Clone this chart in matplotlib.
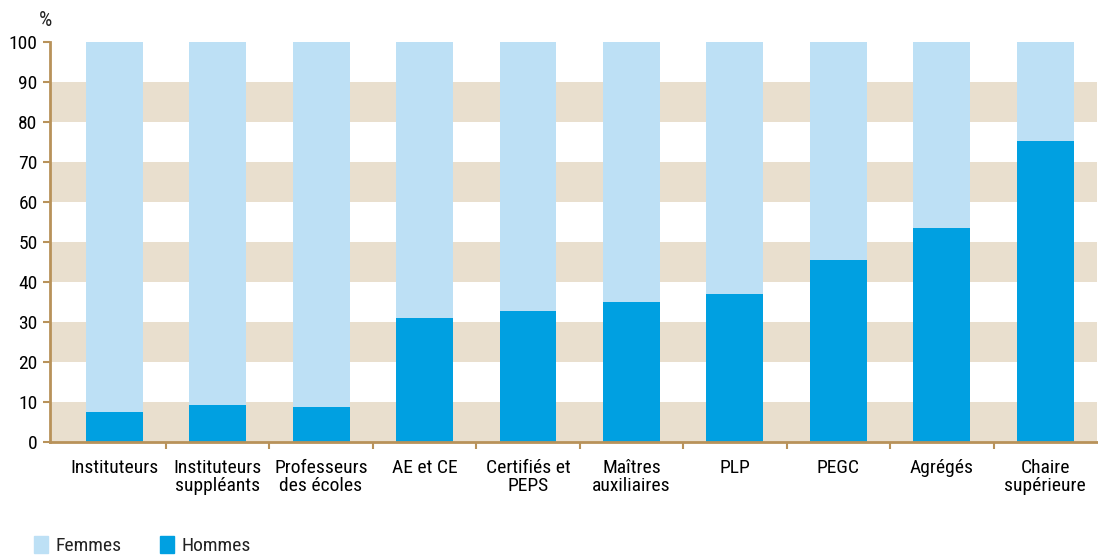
import matplotlib.pyplot as plt
import matplotlib.patches as mpatches
import numpy as np
from matplotlib import font_manager

categories = ["Instituteurs", "Instituteurs\nsuppléants", "Professeurs\ndes écoles",
              "AE et CE", "Certifiés et\nPEPS", "Maîtres\nauxiliaires", "PLP",
              "PEGC", "Agrégés", "Chaire\nsupérieure"]
hommes = [7.5, 9.3, 8.7, 31.0, 32.8, 35.0, 37.0, 45.5, 53.5, 75.3]
femmes = [100 - h for h in hommes]

C_FEM = "#BDE0F5"
C_HOM = "#00A0E1"
C_BAND = "#E9DFCE"
C_AXIS = "#B8925A"

names = {f.name for f in font_manager.fontManager.ttflist}
fam = "DejaVu Sans"
for cand in ["Liberation Sans Narrow", "Roboto Condensed", "Open Sans Condensed",
             "Roboto", "Liberation Sans"]:
    if cand in names:
        fam = cand
        break
plt.rcParams["font.family"] = fam
plt.rcParams["text.color"] = "#222222"

fig = plt.figure(figsize=(10.98, 5.56), dpi=100)
ax = fig.add_axes([50 / 1098, 1 - 442 / 556, 1047 / 1098, 400 / 556])

for lo in range(0, 90, 20):
    ax.axhspan(lo, lo + 10, color=C_BAND, lw=0, zorder=0)

x = np.arange(len(categories))
w = 0.55
ax.bar(x, hommes, w, color=C_HOM, zorder=2, label="Hommes")
ax.bar(x, femmes, w, bottom=hommes, color=C_FEM, zorder=2, label="Femmes")

ax.set_xlim(-0.62, 9.5)
ax.set_ylim(0, 100)
ax.set_yticks(range(0, 101, 10))
ax.set_xticks(x)
ax.set_xticklabels(categories, fontsize=14, linespacing=1.0)
ax.set_xticks(np.arange(0.5, 9.5, 1), minor=True)
ax.tick_params(axis="x", which="major", length=0, pad=12)
ax.tick_params(axis="x", which="minor", length=5, width=1.5, color=C_AXIS)
ax.tick_params(axis="y", length=5, width=1.5, color=C_AXIS, labelsize=14, pad=4)

for s in ["top", "right"]:
    ax.spines[s].set_visible(False)
for s in ["left", "bottom"]:
    ax.spines[s].set_color(C_AXIS)
    ax.spines[s].set_linewidth(2)

fig.text(39 / 1098, 1 - 20 / 556, "%", fontsize=15, ha="left", va="center")

handles = [mpatches.Patch(color=C_FEM, label="Femmes"),
           mpatches.Patch(color=C_HOM, label="Hommes")]
fig.legend(handles=handles, loc="lower left", bbox_to_anchor=(0.015, -0.03),
           ncol=2, frameon=False, fontsize=14, handlelength=0.7,
           handleheight=0.9, handletextpad=0.4, columnspacing=2.0)

fig.savefig("out.png", dpi=100)
